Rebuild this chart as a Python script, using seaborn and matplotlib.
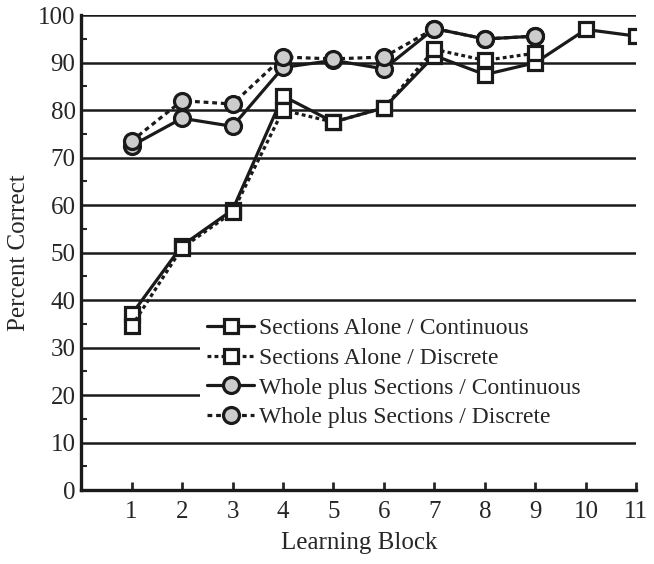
import numpy as np
import pandas as pd
import matplotlib
matplotlib.use("Agg")
import matplotlib.pyplot as plt
import seaborn as sns

# values
blocks = [1, 2, 3, 4, 5, 6, 7, 8, 9, 10, 11]
sa_cont = [37, 51.5, 59, 83, 77.5, 80.5, 91.5, 87.5, 90, 97, 95.6]
sa_disc = [34.5, 51, 58.5, 80, 77.5, 80.5, 92.8, 90.5, 92]
wps_cont = [72.5, 78.3, 76.6, 89, 90.5, 88.7, 97.2, 95, 95.6]
wps_disc = [73.5, 82, 81.3, 91.2, 90.8, 91.2, 97.2, 95, 95.6]

labels = [
    "Sections Alone / Continuous",
    "Sections Alone / Discrete",
    "Whole plus Sections / Continuous",
    "Whole plus Sections / Discrete",
]

sns.set_style("ticks")
plt.rcParams["font.family"] = ["Liberation Serif", "DejaVu Serif"]

fig = plt.figure(figsize=(6.54, 5.64), dpi=100)
ax = fig.add_axes([0.124, 0.131, 0.849, 0.842])

series = [
    (sa_cont, labels[0], "s", "white", "-", 9.5),
    (sa_disc, labels[1], "s", "white", (0, (1.2, 1.0)), 9.5),
    (wps_cont, labels[2], "o", "#cccccc", "-", 11.5),
    (wps_disc, labels[3], "o", "#cccccc", (0, (1.5, 1.2)), 11.5),
]

for vals, lab, mk, fc, ls, ms in series:
    df = pd.DataFrame({"block": blocks[:len(vals)], "pct": vals})
    sns.lineplot(data=df, x="block", y="pct", ax=ax, label=lab,
                 color="#1a1a1a", lw=2.3, linestyle=ls,
                 marker=mk, markersize=ms, markerfacecolor=fc,
                 markeredgecolor="#1a1a1a", markeredgewidth=2.3)

ax.set_xlim(0, 11)
ax.set_ylim(0, 100)
ax.set_xticks(blocks)
ax.set_yticks(np.arange(0, 101, 10))
ax.set_yticks(np.arange(5, 100, 10), minor=True)
ax.yaxis.grid(True, color="#1a1a1a", lw=1.8)
ax.set_axisbelow(True)

for s in ["top", "right"]:
    ax.spines[s].set_visible(False)
for s in ["left", "bottom"]:
    ax.spines[s].set_linewidth(2.4)
    ax.spines[s].set_color("#1a1a1a")

ax.tick_params(axis="x", direction="in", length=6, width=2, labelsize=18, pad=8)
ax.tick_params(axis="y", which="major", direction="in", length=0, labelsize=18, pad=4)
ax.tick_params(axis="y", which="minor", direction="in", length=4, width=1.5)

ax.set_xlabel("Learning Block", fontsize=18, labelpad=6)
ax.set_ylabel("Percent Correct", fontsize=18, labelpad=6)

leg = ax.legend(loc="lower left", bbox_to_anchor=(0.214, 0.115, 0.786, 0.27),
                mode="expand", frameon=True, fancybox=False, framealpha=1,
                facecolor="white", edgecolor="none", fontsize=17,
                handlelength=2.0, handletextpad=0.2, labelspacing=0.35,
                borderaxespad=0, borderpad=0.3)

fig.savefig("out.png", dpi=100)
